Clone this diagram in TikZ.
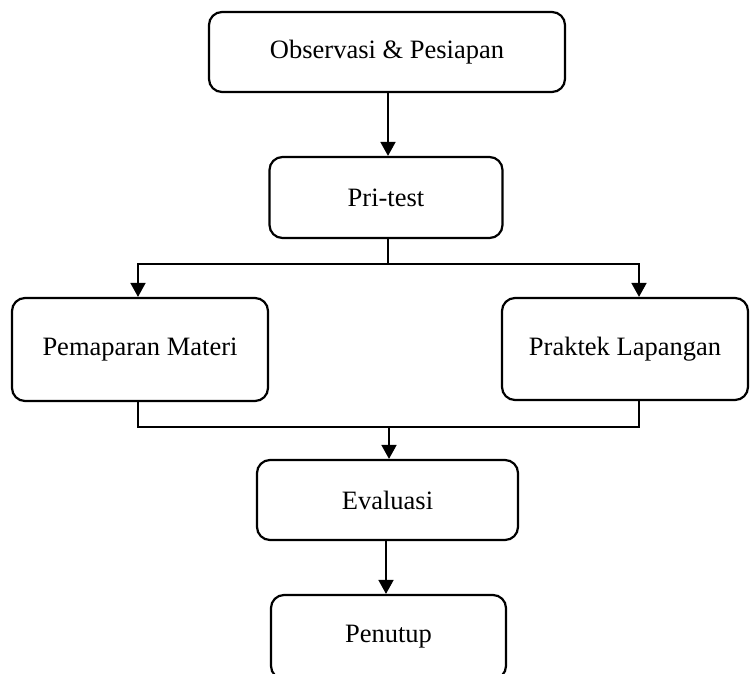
\documentclass[tikz,border=0pt]{standalone}
\usepackage{fontspec}
\setmainfont{Liberation Serif}
\usetikzlibrary{arrows.meta,calc}
\begin{document}
\begin{tikzpicture}[x=1pt,y=-1pt,
  box/.style={draw,line width=2.2pt,rounded corners=13pt,inner sep=0pt,
    font=\fontsize{26.5}{30}\selectfont},
  conn/.style={line width=1.8pt},
  arr/.style={conn,-{Triangle[length=14pt,width=15pt]}}]
\useasboundingbox (0,0) rectangle (750,673);
\clip (0,0) rectangle (750,673);
\fill[white] (0,0) rectangle (750,673);
\node[box,minimum width=356pt,minimum height=80pt] (obs) at (387,52) {Observasi \& Pesiapan};
\node[box,minimum width=233pt,minimum height=81pt] (pri) at (386,197.5) {Pri-test};
\node[box,minimum width=256pt,minimum height=103pt] (pm) at (140,349.5) {Pemaparan Materi};
\node[box,minimum width=246pt,minimum height=102pt] (pl) at (625,349) {Praktek Lapangan};
\node[box,minimum width=261pt,minimum height=80pt] (ev) at (387.5,500) {Evaluasi};
\node[box,minimum width=235pt,minimum height=84pt] (pt) at (388.5,637) {Penutup};
\draw[arr] ([xshift=1pt]obs.south) -- ([xshift=1pt]obs.south |- pri.north);
\coordinate (j1) at ($(pri.south)+(2,25)$);
\draw[conn] ([xshift=2pt]pri.south) -- (j1);
\draw[arr] (j1) -| ([xshift=-2pt]pm.north);
\draw[arr] (j1) -| ([xshift=14pt]pl.north);
\coordinate (j2) at (389,427);
\draw[conn] ([xshift=-2pt]pm.south) |- (j2);
\draw[conn] ([xshift=14pt]pl.south) |- (j2);
\draw[arr] (j2) -- (j2 |- ev.north);
\draw[arr] ([xshift=-1.5pt]ev.south) -- ([xshift=-1.5pt]ev.south |- pt.north);
\end{tikzpicture}
\end{document}
